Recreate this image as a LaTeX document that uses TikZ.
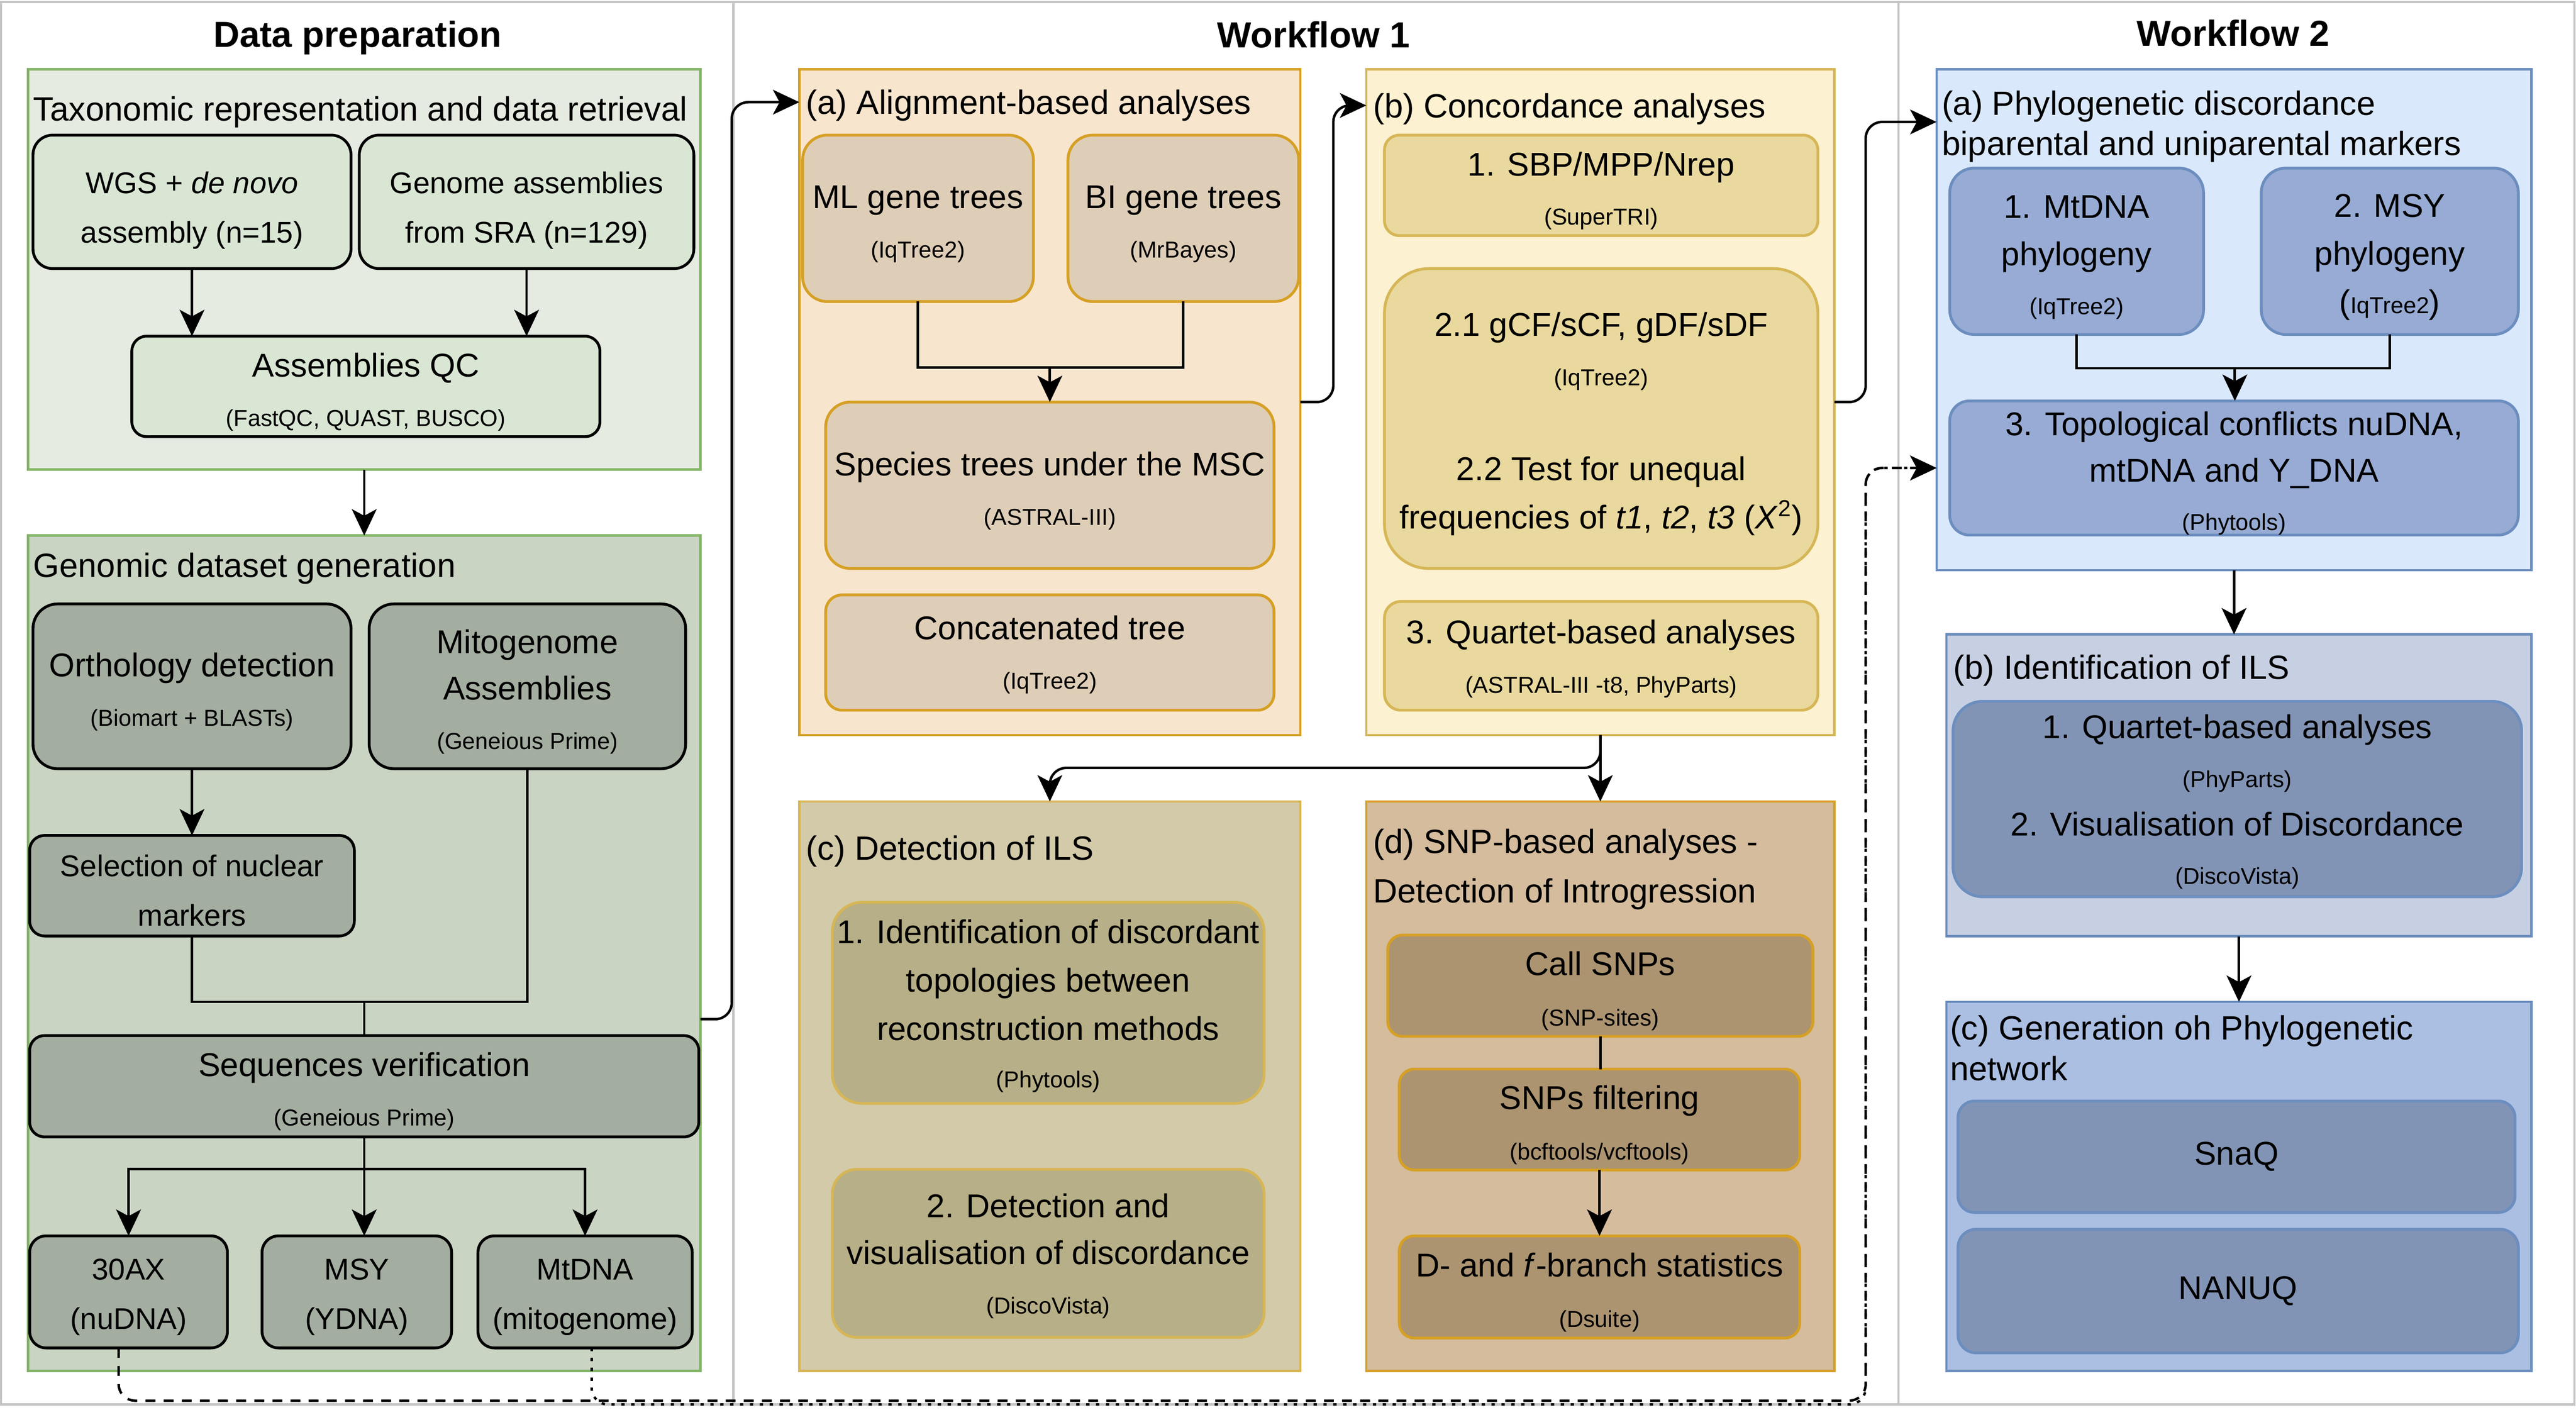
\documentclass[tikz,border=0pt]{standalone}
\usepackage{fontspec}
\setmainfont{Liberation Sans}
\usetikzlibrary{arrows.meta}

\definecolor{frameGray}{HTML}{C4C4C4}
\definecolor{dpLine}{HTML}{82B366}
\definecolor{dpPale}{HTML}{E5EBE0}
\definecolor{dpTop}{HTML}{DAE6D4}
\definecolor{dpMid}{HTML}{C9D4C3}
\definecolor{dpBox}{HTML}{A3ADA0}
\definecolor{goldLine}{HTML}{D6A025}
\definecolor{sandLine}{HTML}{D6B656}
\definecolor{waFill}{HTML}{F8E5CD}
\definecolor{waBox}{HTML}{DFCEB7}
\definecolor{wbFill}{HTML}{FCF1D0}
\definecolor{wbBox}{HTML}{E9D99E}
\definecolor{wcFill}{HTML}{D3CAA9}
\definecolor{wcBox}{HTML}{B7AF87}
\definecolor{wdFill}{HTML}{D4BC9D}
\definecolor{wdBox}{HTML}{AC9471}
\definecolor{blueLine}{HTML}{6C8EBF}
\definecolor{xaFill}{HTML}{DAE8FC}
\definecolor{xaBox}{HTML}{97ABD4}
\definecolor{xbFill}{HTML}{C7D0E3}
\definecolor{xcFill}{HTML}{ABBFE3}
\definecolor{xBox}{HTML}{8294B5}

\newcommand{\hdfont}{\fontsize{22}{26}\selectfont\bfseries}
\newcommand{\ttlfont}{\fontsize{20.4}{24.5}\selectfont}
\newcommand{\bxfont}{\fontsize{20}{29.5}\selectfont}
\newcommand{\tpfont}{\fontsize{18.2}{30}\selectfont}
\newcommand{\tlfont}{\fontsize{14}{17}\selectfont}
\newcommand{\boxlift}[1][1.05em]{\rule{0pt}{#1}}

\tikzset{
	frame/.style={draw=frameGray, line width=1.3pt},
	group/.style={draw, line width=1.4pt, inner sep=0pt, outer sep=0pt},
	box/.style={draw, line width=1.7pt, rounded corners=#1, align=center, inner sep=0pt, outer sep=0pt, font=\bxfont},
	box/.default=10pt,
	ttl/.style={anchor=west, inner sep=0pt, align=left, font=\ttlfont},
	head/.style={inner sep=0pt, font=\hdfont},
	conn/.style={line width=1.5pt},
	arr/.style={conn, -{Stealth[length=16pt, width=15pt, inset=4pt]}},
	curvy/.style={rounded corners=10pt},
}

\begin{document}
\begin{tikzpicture}[x=1pt, y=-1pt]
	\useasboundingbox (0,0) rectangle (1563,858.7);
	% outer frame
	\draw[frame] (0.7,1.3) rectangle (1562,852.3);
	\draw[frame] (445,1.3) -- (445,852.3);
	\draw[frame] (1152,1.3) -- (1152,852.3);

	% Data preparation
	\node[head] (hprep) at (217,23) {Data preparation};
	\node[group, draw=dpLine, fill=dpPale, minimum width=408pt, minimum height=243pt] (prepA) at (221,163.5) {};
	\node[ttl] (tprepA) at (20,68) {Taxonomic representation and data retrieval};
	\node[box=12pt, fill=dpTop, font=\tpfont, minimum width=193pt, minimum height=81pt] (wgs) at (116.5,122.5) {\boxlift[1.3em]WGS + \textit{de novo}\\assembly (n=15)};
	\node[box=12pt, fill=dpTop, font=\tpfont, minimum width=203pt, minimum height=81pt] (gasm) at (319.5,122.5) {\boxlift[1.3em]Genome assemblies\\from SRA (n=129)};
	\node[box=9pt, fill=dpTop, minimum width=284pt, minimum height=61pt] (qc) at (222,234.5) {\boxlift Assemblies QC\\[0.5pt]{\tlfont (FastQC, QUAST, BUSCO)}};

	\node[group, draw=dpLine, fill=dpMid, minimum width=408pt, minimum height=507pt] (prepB) at (221,578.5) {};
	\node[ttl] (tprepB) at (20,345) {Genomic dataset generation};
	\node[box=15pt, fill=dpBox, minimum width=193pt, minimum height=100pt] (orth) at (116.5,416.5) {\boxlift Orthology detection\\[0.5pt]{\tlfont (Biomart + BLASTs)}};
	\node[box=15pt, fill=dpBox, minimum width=192pt, minimum height=100pt] (mito) at (320,416.5) {\boxlift Mitogenome\\[-1.5pt]Assemblies\\[0.5pt]{\tlfont (Geneious Prime)}};
	\node[box=9pt, fill=dpBox, font=\tpfont, minimum width=197pt, minimum height=61pt] (sel) at (116.5,537.5) {\boxlift Selection of nuclear\\markers};
	\node[box=9pt, fill=dpBox, minimum width=406pt, minimum height=61.5pt] (seqv) at (221,659.2) {\boxlift Sequences verification\\[0.5pt]{\tlfont (Geneious Prime)}};
	\node[box=10pt, fill=dpBox, font=\tpfont, minimum width=120pt, minimum height=68pt] (ax) at (78,784) {\boxlift 30AX\\(nuDNA)};
	\node[box=10pt, fill=dpBox, font=\tpfont, minimum width=115pt, minimum height=68pt] (msy) at (216.5,784) {\boxlift MSY\\(YDNA)};
	\node[box=10pt, fill=dpBox, font=\tpfont, minimum width=130pt, minimum height=68pt] (mtdna) at (355,784) {\boxlift MtDNA\\(mitogenome)};

	% Workflow 1
	\node[head] (hwf) at (797,21) {Workflow 1};
	\node[group, draw=goldLine, fill=waFill, minimum width=304pt, minimum height=404pt] (wfa) at (637,244) {};
	\node[ttl] (twfa) at (489,64) {(a) Alignment-based analyses};
	\node[box=15pt, draw=goldLine, fill=waBox, minimum width=140pt, minimum height=101pt] (mlt) at (557,132.5) {\boxlift ML gene trees\\[0.5pt]{\tlfont (IqTree2)}};
	\node[box=15pt, draw=goldLine, fill=waBox, minimum width=140pt, minimum height=101pt] (bit) at (718,132.5) {\boxlift BI gene trees\\[0.5pt]{\tlfont (MrBayes)}};
	\node[box=15pt, draw=goldLine, fill=waBox, minimum width=272pt, minimum height=101pt] (spt) at (637,294.5) {\boxlift Species trees under the MSC\\[0.5pt]{\tlfont (ASTRAL-III)}};
	\node[box=10pt, draw=goldLine, fill=waBox, minimum width=272pt, minimum height=70pt] (cct) at (637,396) {\boxlift[0.85em]Concatenated tree\\[0.5pt]{\tlfont (IqTree2)}};

	\node[group, draw=sandLine, fill=wbFill, minimum width=284pt, minimum height=404pt] (wfb) at (971,244) {};
	\node[ttl] (twfb) at (833,66) {(b) Concordance analyses};
	\node[box=9pt, draw=sandLine, fill=wbBox, minimum width=263pt, minimum height=61pt] (sbp) at (971.5,112.5) {\boxlift 1. SBP/MPP/Nrep\\{\tlfont (SuperTRI)}};
	\node[box=27pt, draw=sandLine, fill=wbBox, minimum width=263pt, minimum height=182pt] (gcf) at (971.5,254) {\boxlift 2.1 gCF/sCF, gDF/sDF\\[0.5pt]{\tlfont (IqTree2)}\\[28pt]2.2 Test for unequal\\frequencies of \textit{t1}, \textit{t2}, \textit{t3} (\textit{X}\textsuperscript{2})};
	\node[box=10pt, draw=sandLine, fill=wbBox, minimum width=263pt, minimum height=66pt] (qrt) at (971.5,398) {\boxlift[0.9em]3. Quartet-based analyses\\[0.5pt]{\tlfont (ASTRAL-III -t8, PhyParts)}};

	\node[group, draw=sandLine, fill=wcFill, minimum width=304pt, minimum height=345.6pt] (wfc) at (637,659.2) {};
	\node[ttl] (twfc) at (489,516.5) {(c) Detection of ILS};
	\node[box=18pt, draw=sandLine, fill=wcBox, minimum width=262pt, minimum height=122pt] (disc) at (636,608.6) {\boxlift[0.9em]1. Identification of discordant\\topologies between\\reconstruction methods\\[-1pt]{\tlfont (Phytools)}};
	\node[box=15pt, draw=sandLine, fill=wcBox, minimum width=262pt, minimum height=102pt] (dvis) at (636,760.6) {\boxlift[0.9em]2. Detection and\\[-1pt]visualisation of discordance\\[0.5pt]{\tlfont (DiscoVista)}};

	\node[group, draw=goldLine, fill=wdFill, minimum width=284pt, minimum height=345.6pt] (wfd) at (971,659.2) {};
	\node[ttl, font=\fontsize{20.4}{30}\selectfont] (twfd) at (833,527.5) {(d) SNP-based analyses -\\Detection of Introgression};
	\node[box=9pt, draw=goldLine, fill=wdBox, minimum width=258pt, minimum height=61.5pt] (call) at (971,598.2) {\boxlift Call SNPs\\[1pt]{\tlfont (SNP-sites)}};
	\node[box=9pt, draw=goldLine, fill=wdBox, minimum width=243pt, minimum height=61.2pt] (filt) at (970.5,679.4) {\boxlift SNPs filtering\\[1pt]{\tlfont (bcftools/vcftools)}};
	\node[box=9pt, draw=goldLine, fill=wdBox, minimum width=243pt, minimum height=62pt] (dst) at (970.5,781) {\boxlift D- and \textit{f}-branch statistics\\[1pt]{\tlfont (Dsuite)}};

	% Workflow 2
	\node[head] (hws) at (1355,20) {Workflow 2};
	\node[group, draw=blueLine, fill=xaFill, minimum width=361pt, minimum height=304pt] (wsa) at (1355.5,194) {};
	\node[ttl] (twsa) at (1178,76.8) {(a) Phylogenetic discordance\\biparental and uniparental markers};
	\node[box=15pt, draw=blueLine, fill=xaBox, minimum width=154pt, minimum height=101pt] (mtp) at (1260,152.5) {\boxlift 1. MtDNA\\[-0.5pt]phylogeny\\{\tlfont (IqTree2)}};
	\node[box=15pt, draw=blueLine, fill=xaBox, minimum width=156pt, minimum height=101pt] (msp) at (1450,152.5) {\boxlift 2. MSY\\[-0.5pt]phylogeny\\{\tlfont{\bxfont(}IqTree2{\bxfont)}}};
	\node[box=12pt, draw=blueLine, fill=xaBox, minimum width=345pt, minimum height=81pt] (topo) at (1355.5,284) {\boxlift 3. Topological conflicts nuDNA,\\[-1.5pt]mtDNA and Y\_DNA\\{\tlfont (Phytools)}};

	\node[group, draw=blueLine, fill=xbFill, minimum width=355pt, minimum height=183.2pt] (wsb) at (1358.5,476.6) {};
	\node[ttl] (twsb) at (1185,407) {(b) Identification of ILS};
	\node[box=18pt, draw=blueLine, fill=xBox, minimum width=345pt, minimum height=118.6pt] (ils) at (1357.5,484.9) {\boxlift[0.9em]1. Quartet-based analyses\\{\tlfont (PhyParts)}\\2. Visualisation of Discordance\\{\tlfont (DiscoVista)}};

	\node[group, draw=blueLine, fill=xcFill, minimum width=355pt, minimum height=224pt] (wsc) at (1358.5,720) {};
	\node[ttl] (twsc) at (1183,636) {(c) Generation oh Phylogenetic\\network};
	\node[box=10pt, draw=blueLine, fill=xBox, minimum width=338pt, minimum height=67.6pt] (snaq) at (1357,702) {SnaQ};
	\node[box=11pt, draw=blueLine, fill=xBox, minimum width=340pt, minimum height=75pt] (nanuq) at (1358,783.5) {NANUQ};

	% connectors, data preparation
	\draw[arr] (wgs.south) -- (wgs.south |- qc.north);
	\draw[arr] (gasm.south) -- (gasm.south |- qc.north);
	\draw[arr] (prepA.south) -- (prepB.north);
	\draw[arr] (orth.south) -- (sel.north);
	\coordinate (prepJoin) at (221,608);
	\draw[conn] (sel.south) |- (prepJoin) -| (mito.south);
	\draw[conn] (prepJoin) -- (seqv.north);
	\coordinate (prepSplit) at (221,709.5);
	\draw[arr] (seqv.south) -- (seqv.south |- msy.north);
	\draw[arr] (prepSplit) -| (ax.north);
	\draw[arr] (prepSplit) -| (mtdna.north);

	% connectors, workflow 1
	\draw[arr, curvy] ([yshift=-40pt]prepB.east) -- ++(19,0) |- ([yshift=-20pt]wfa.north west);
	\coordinate (mlbiJoin) at (637,223);
	\draw[conn] (mlt.south) |- (mlbiJoin) -| (bit.south);
	\draw[arr] (mlbiJoin) -- (spt.north);
	\draw[arr, curvy] (wfa.east) -- ++(20,0) |- ([yshift=-22pt]wfb.north west);
	\draw[arr, curvy] (wfb.east) -- ++(19,0) |- ([yshift=-32pt]wsa.north west);
	\coordinate (wfSplit) at (971,466);
	\draw[arr, curvy] (wfb.south) -- (wfSplit) -| (wfc.north);
	\draw[arr] (wfb.south) -- (wfd.north);
	\draw[conn] (call.south) -- (call.south |- filt.north);
	\draw[arr] (filt.south) -- (dst.north);

	% connectors, workflow 2
	\coordinate (wsJoin) at (1356,223.5);
	\draw[conn] (mtp.south) |- (wsJoin) -| (msp.south);
	\draw[arr] (wsJoin) -- (wsJoin |- topo.north);
	\draw[arr] (wsa.south) -- (wsa.south |- wsb.north);
	\draw[arr] (wsb.south) -- (wsb.south |- wsc.north);

	% markers back to workflow 2
	\coordinate (dashTurn) at (1132,850);
	\coordinate (dotTurn) at (1132,852.3);
	\draw[arr, curvy, dash pattern=on 6pt off 5pt] ([xshift=-6pt]ax.south) |- (dashTurn) |- (wsa.west |- topo.west);
	\draw[arr, curvy, dash pattern=on 2pt off 4pt] ([xshift=4pt]mtdna.south) |- (dotTurn) |- (wsa.west |- topo.west);
\end{tikzpicture}
\end{document}
